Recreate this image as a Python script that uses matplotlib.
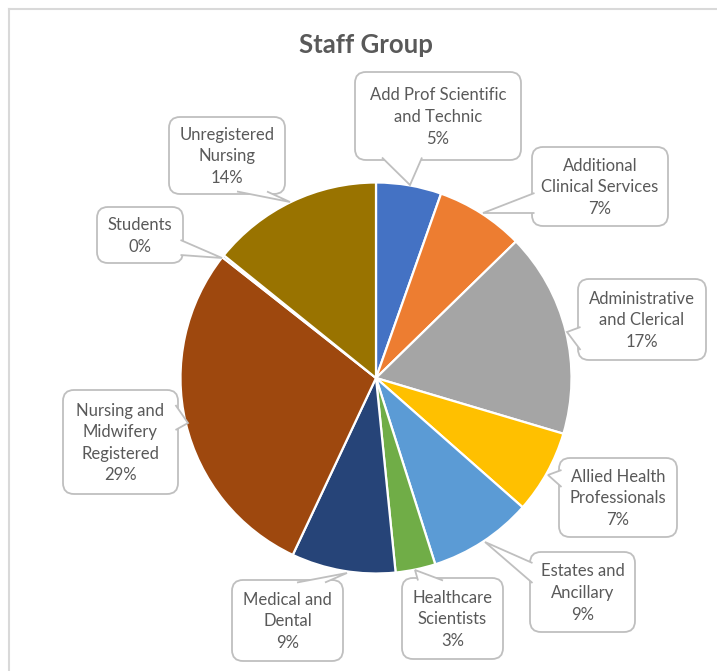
import matplotlib
matplotlib.use("Agg")
import matplotlib.pyplot as plt
from matplotlib.patches import FancyBboxPatch, Polygon
from matplotlib.lines import Line2D

# ---- data ----
categories = ["Add Prof Scientific\nand Technic", "Additional\nClinical Services",
              "Administrative\nand Clerical", "Allied Health\nProfessionals",
              "Estates and\nAncillary", "Healthcare\nScientists", "Medical and\nDental",
              "Nursing and\nMidwifery\nRegistered", "Students", "Unregistered\nNursing"]
values = [5.4, 7.3, 16.9, 6.9, 8.6, 3.3, 8.6, 28.6, 0.2, 14.2]
colors = ["#4472C4", "#ED7D31", "#A5A5A5", "#FFC000", "#5B9BD5", "#70AD47",
          "#264478", "#9E480E", "#636363", "#997300"]
title = "Staff Group"

# ---- layout (pixel positions of callout boxes: x0, y0, x1, y1; tip; base points) ----
W, H = 717, 671
CX, CY, R = 376, 378, 195.5
boxes = [(355, 72, 521, 160), (532, 147, 668, 226), (578, 279, 706, 360),
         (559, 458, 677, 537), (530, 552, 635, 632), (402, 578, 503, 659),
         (232, 580, 343, 661), (63, 390, 178, 494), (97, 207, 183, 263),
         (169, 117, 285, 194)]
tips = [(410, 185), (483, 213), (567, 332), (548, 475), (485, 542), (415, 570),
        (347, 573), (188, 423), (222, 258), (290, 202)]
bases = [((382, 160), (422, 160)), ((532, 193), (532, 213)), ((578, 327), (578, 350)),
         ((559, 470), (559, 487)), ((530, 563), (530, 583)), ((418, 578), (443, 578)),
         ((297, 580), (325, 580)), ((178, 405), (178, 430)), ((183, 240), (183, 255)),
         ((237, 194), (267, 194))]


def P(x, y):
    return ((x - CX) / R, (CY - y) / R)


fig = plt.figure(figsize=(W / 100, H / 100), dpi=100)
ax = fig.add_axes([0, 0, 1, 1])

wedges, _ = ax.pie(values, colors=colors, startangle=90, counterclock=False,
                   radius=1, center=(0, 0), frame=True,
                   wedgeprops=dict(edgecolor="white", linewidth=1.6))
ax.set_aspect("auto")
ax.set_xlim(P(0, 0)[0], P(W, 0)[0])
ax.set_ylim(P(0, H)[1], P(0, 0)[1])
ax.axis("off")

# chart frame
fx, fy = P(9, 9)
ax.add_line(Line2D([fx, fx], [fy, P(0, H)[1] - 1], color="#D9D9D9", lw=1.5))
ax.add_line(Line2D([fx, P(W, 0)[0] + 1], [fy, fy], color="#D9D9D9", lw=1.5))

edge = "#BFBFBF"
txtc = "#595959"
rs = 11 / R
for name, val, b, tip, base in zip(categories, values, boxes, tips, bases):
    x0, y0 = P(b[0], b[3])
    x1, y1 = P(b[2], b[1])
    box = FancyBboxPatch((x0, y0), x1 - x0, y1 - y0,
                         boxstyle=f"round,pad=0,rounding_size={rs}",
                         facecolor="white", edgecolor=edge, lw=1.3, zorder=5)
    ax.add_patch(box)
    cxm, cym = (b[0] + b[2]) / 2, (b[1] + b[3]) / 2
    pts = []
    for bx, by in base:
        dx = 2.5 if bx == b[0] else (-2.5 if bx == b[2] else 0)
        dy = 2.5 if by == b[1] else (-2.5 if by == b[3] else 0)
        pts.append(P(bx + dx, by + dy))
    tri = Polygon([pts[0], P(*tip), pts[1]], closed=False, facecolor="white",
                  edgecolor=edge, lw=1.3, zorder=6, joinstyle="miter")
    ax.add_patch(tri)
    tx, ty = P(cxm, cym + 1)
    ax.text(tx, ty, f"{name}\n{val:.0f}%", ha="center", va="center",
            fontsize=12, family="Lato", color=txtc, linespacing=1.43, zorder=7)

tx, ty = P(366, 45)
ax.text(tx, ty, title, ha="center", va="center", fontsize=18.5, family="Lato",
        fontweight="bold", color=txtc)

fig.savefig("out.png", dpi=100, facecolor="white")
